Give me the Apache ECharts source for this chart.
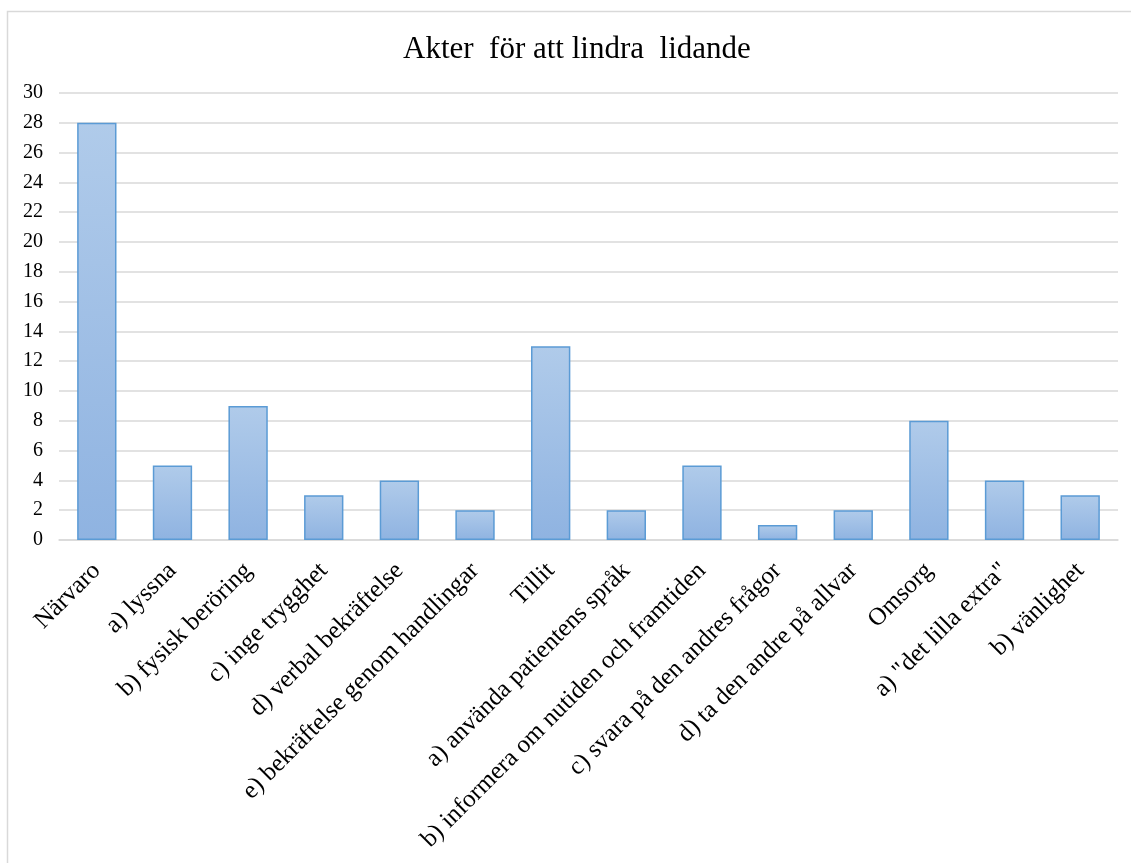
<!DOCTYPE html>
<html>
<head>
<meta charset="utf-8">
<script src="https://cdn.jsdelivr.net/npm/echarts@6/dist/echarts.min.js"></script>
<style>
  html, body { margin: 0; padding: 0; background: #fff; }
  #chart { width: 1131px; height: 863px; }
</style>
</head>
<body>
<div id="chart"></div>
<script>
const categories = [
  'Närvaro',
  'a) lyssna',
  'b) fysisk beröring',
  'c) inge trygghet',
  'd) verbal bekräftelse',
  'e) bekräftelse genom handlingar',
  'Tillit',
  'a) använda patientens språk',
  'b) informera om nutiden och framtiden',
  'c) svara på den andres frågor',
  'd) ta den andre på allvar',
  'Omsorg',
  'a) "det lilla extra"',
  'b) vänlighet'
];
const counts = [28, 5, 9, 3, 4, 2, 13, 2, 5, 1, 2, 8, 4, 3];
const yTicks = { min: 0, max: 30, step: 2 };

const chart = echarts.init(document.getElementById('chart'));
const serif = '"Liberation Serif", "Times New Roman", serif';

chart.setOption({
  animation: false,
  title: {
    text: 'Akter  för att lindra  lidande',
    left: 398,
    top: 29,
    textStyle: { fontFamily: serif, fontSize: 31, fontWeight: 'normal', color: '#000' }
  },
  graphic: [{
    type: 'rect',
    shape: { x: 7.5, y: 11.5, width: 1200, height: 900 },
    style: { fill: 'none', stroke: '#d9d9d9', lineWidth: 1.5 },
    silent: true
  }],
  grid: { left: 59, right: 13, top: 93, bottom: 323 },
  xAxis: {
    type: 'category',
    data: categories,
    axisLine: { lineStyle: { color: '#d9d9d9', width: 1.5 } },
    axisTick: { show: false },
    axisLabel: {
      interval: 0,
      rotate: 45,
      margin: 27,
      fontFamily: serif,
      fontSize: 25,
      color: '#000'
    }
  },
  yAxis: {
    type: 'value',
    min: yTicks.min,
    max: yTicks.max,
    interval: yTicks.step,
    axisLine: { show: false },
    axisTick: { show: false },
    splitLine: { lineStyle: { color: '#d9d9d9', width: 1.5 } },
    axisLabel: { fontFamily: serif, fontSize: 20, color: '#000', margin: 16 }
  },
  series: [{
    type: 'bar',
    data: counts,
    barWidth: '52%',
    itemStyle: {
      color: new echarts.graphic.LinearGradient(0, 0, 0, 1, [
        { offset: 0, color: '#b0cbea' },
        { offset: 1, color: '#8fb3e1' }
      ]),
      borderColor: '#5b9bd5',
      borderWidth: 1.5
    }
  }]
});
</script>
</body>
</html>
